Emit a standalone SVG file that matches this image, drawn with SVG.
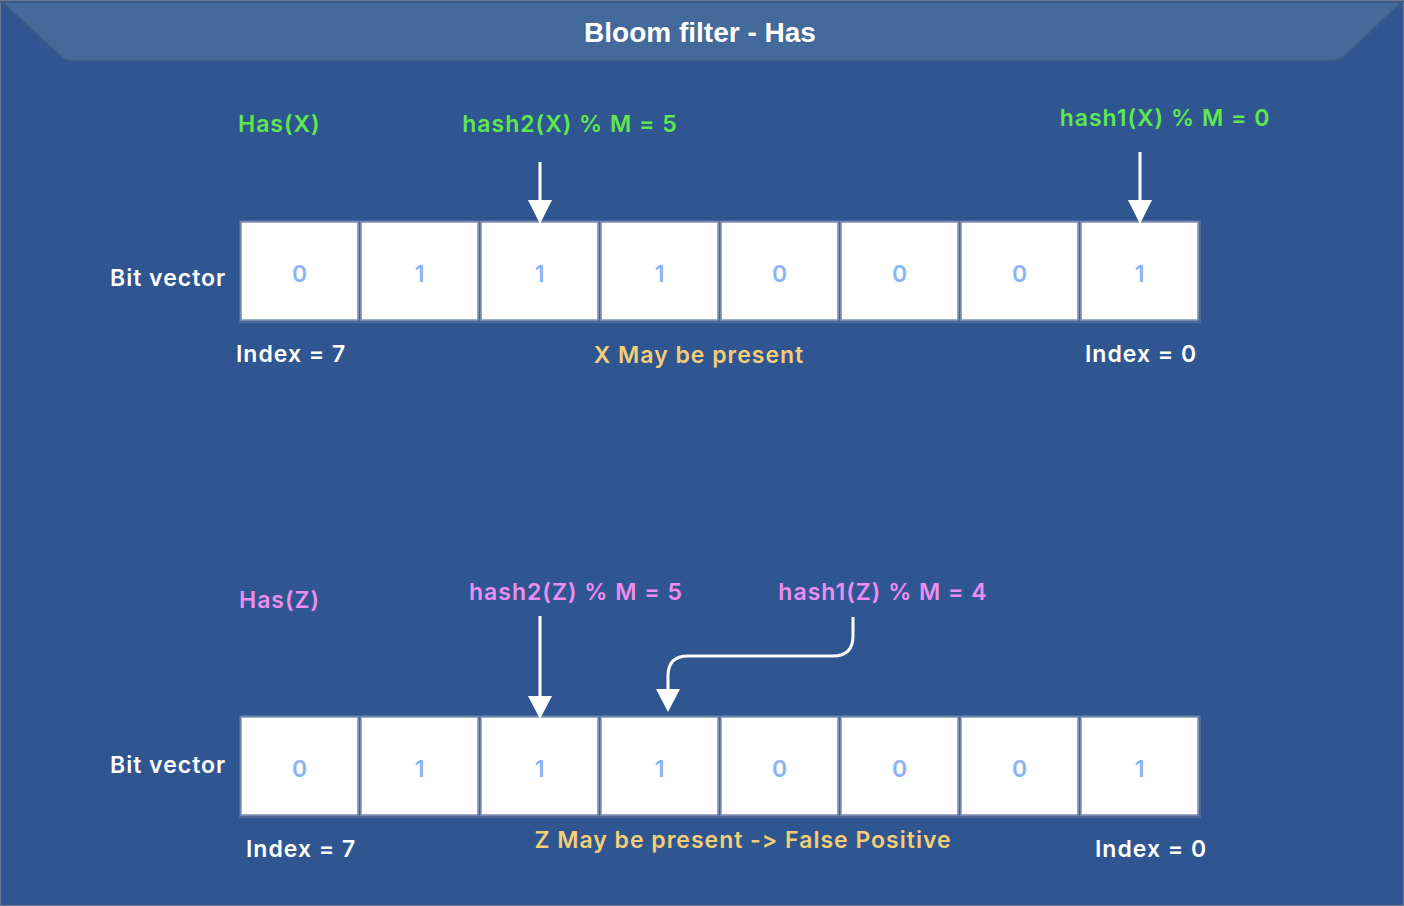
<svg xmlns="http://www.w3.org/2000/svg" width="1404" height="906" viewBox="0 0 1404 906">
<defs>
<style>
.t{font-family:Inter,"Open Sans","Liberation Sans",sans-serif;font-weight:600;font-size:23px;letter-spacing:1px;font-variant-ligatures:none;font-feature-settings:"calt" 0,"liga" 0;}
.w{fill:#ffffff}
.g{fill:#5fe84e}
.p{fill:#ec8ef0}
.y{fill:#f5cd77}
.cell{fill:#ffffff;stroke:#7f93b5;stroke-width:1.5}
.d{font-family:Inter,"Open Sans","Liberation Sans",sans-serif;font-weight:600;font-size:23px;fill:#8ab4f8;text-anchor:middle}
.c{fill:none;stroke:#ffffff;stroke-width:3}
</style>
</defs>
<rect width="1404" height="906" fill="#2f5690"/>
<rect x="0.5" y="0.5" width="1403" height="905" fill="none" stroke="#6a7a96" stroke-width="1"/>
<g id="header">
<path d="M2,2 L1402,2 L1345,56 Q1340,61 1330,61 L74,61 Q64,61 60,56 Z" fill="#44699b" stroke="#3c5a86" stroke-width="2"/>
<text x="700" y="42" text-anchor="middle" style="font-family:'Liberation Sans',Arial,sans-serif;font-weight:700;font-size:28px" fill="#ffffff">Bloom filter - Has</text>
</g>
<g id="top-labels">
<text class="t g" x="238" y="132">Has(X)</text>
<text class="t g" x="570" y="132" text-anchor="middle">hash2(X) % M = 5</text>
<text class="t g" x="1165" y="126" text-anchor="middle">hash1(X) % M = 0</text>
<text class="t w" x="110" y="286">Bit vector</text>
<text class="t w" x="236" y="362">Index = 7</text>
<text class="t y" x="699" y="363" text-anchor="middle">X May be present</text>
<text class="t w" x="1085" y="362">Index = 0</text>
</g>
<g id="top-vector">
<rect x="239" y="220" width="962" height="103" fill="#4d6a98"/>
<rect class="cell" x="241" y="222" width="117" height="98"/>
<rect class="cell" x="361" y="222" width="117" height="98"/>
<rect class="cell" x="481" y="222" width="117" height="98"/>
<rect class="cell" x="601" y="222" width="117" height="98"/>
<rect class="cell" x="721" y="222" width="117" height="98"/>
<rect class="cell" x="841" y="222" width="117" height="98"/>
<rect class="cell" x="961" y="222" width="117" height="98"/>
<rect class="cell" x="1081" y="222" width="117" height="98"/>
<text class="d" x="299.5" y="282">0</text>
<text class="d" x="419.5" y="282">1</text>
<text class="d" x="539.5" y="282">1</text>
<text class="d" x="659.5" y="282">1</text>
<text class="d" x="779.5" y="282">0</text>
<text class="d" x="899.5" y="282">0</text>
<text class="d" x="1019.5" y="282">0</text>
<text class="d" x="1139.5" y="282">1</text>
</g>
<g id="bottom-labels">
<text class="t p" x="239" y="608">Has(Z)</text>
<text class="t p" x="576" y="600" text-anchor="middle">hash2(Z) % M = 5</text>
<text class="t p" x="883" y="600" text-anchor="middle">hash1(Z) % M = 4</text>
<text class="t w" x="110" y="773">Bit vector</text>
<text class="t w" x="246" y="857">Index = 7</text>
<text class="t y" x="743" y="848" text-anchor="middle">Z May be present -&gt; False Positive</text>
<text class="t w" x="1095" y="857">Index = 0</text>
</g>
<g id="bottom-vector">
<rect x="239" y="715" width="962" height="103" fill="#4d6a98"/>
<rect class="cell" x="241" y="717" width="117" height="98"/>
<rect class="cell" x="361" y="717" width="117" height="98"/>
<rect class="cell" x="481" y="717" width="117" height="98"/>
<rect class="cell" x="601" y="717" width="117" height="98"/>
<rect class="cell" x="721" y="717" width="117" height="98"/>
<rect class="cell" x="841" y="717" width="117" height="98"/>
<rect class="cell" x="961" y="717" width="117" height="98"/>
<rect class="cell" x="1081" y="717" width="117" height="98"/>
<text class="d" x="299.5" y="777">0</text>
<text class="d" x="419.5" y="777">1</text>
<text class="d" x="539.5" y="777">1</text>
<text class="d" x="659.5" y="777">1</text>
<text class="d" x="779.5" y="777">0</text>
<text class="d" x="899.5" y="777">0</text>
<text class="d" x="1019.5" y="777">0</text>
<text class="d" x="1139.5" y="777">1</text>
</g>
<g id="connectors">
<path class="c" d="M540,162 L540,200"/>
<path d="M528,200 L552,200 L540,224 Z" fill="#ffffff"/>
<path class="c" d="M1140,152 L1140,200"/>
<path d="M1128,200 L1152,200 L1140,224 Z" fill="#ffffff"/>
<path class="c" d="M540,616 L540,696"/>
<path d="M528,696 L552,696 L540,719 Z" fill="#ffffff"/>
<path class="c" d="M853,617 L853,636 Q853,656 833,656 L688,656 Q668,656 668,676 L668,690"/>
<path d="M656,689 L680,689 L668,712 Z" fill="#ffffff"/>
</g>
</svg>
